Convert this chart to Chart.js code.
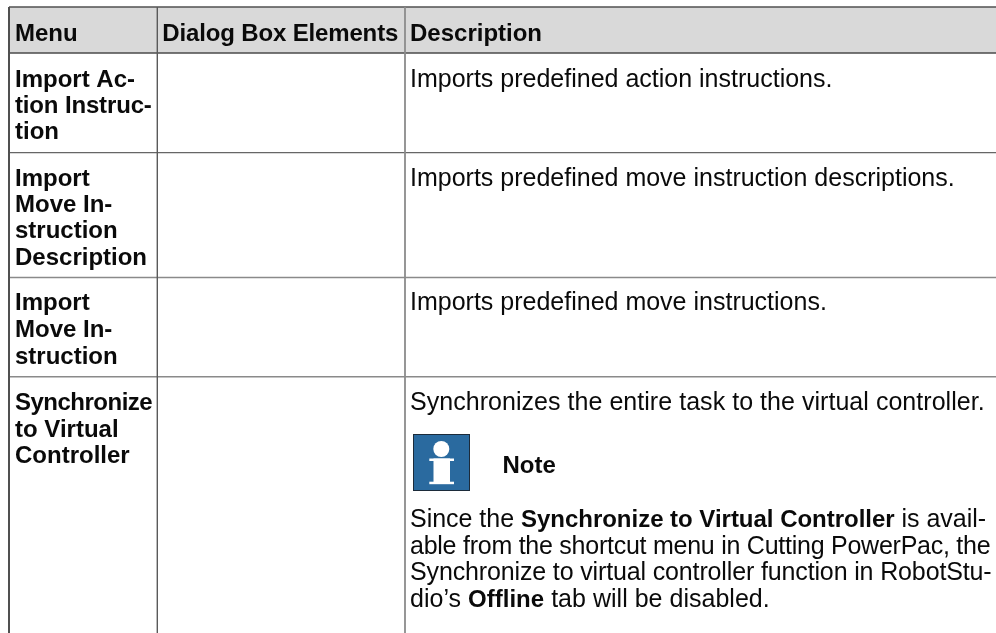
<!DOCTYPE html>
<html>
<head>
<meta charset="utf-8">
<style>
  html, body { margin: 0; padding: 0; background: #fff; }
  #wrap { width: 996px; height: 633px; }
</style>
<script src="https://cdn.jsdelivr.net/npm/chart.js@4"></script>
</head>
<body>
<div id="wrap"><canvas id="table"></canvas></div>
<script>
// table geometry in page units
const columnEdges = [9, 157.3, 405];
const rowEdges = [7, 53, 152.6, 277.4, 376.8];
const tableRight = 996;
const tableBottom = 633;

const columnColors = ['#505050', '#5a5a5a', '#8c8c8c'];
const columnWidths = [2, 1.4, 1.8];
const rowColors = ['#505050', '#4a4a4a', '#666666', '#8a8a8a', '#8a8a8a'];
const rowWidths = [1.5, 1.5, 1.4, 1.5, 1.5];

// text, letter spacing
const headers = [['Menu', 0], ['Dialog Box Elements', -0.15], ['Description', 0]];
const headerBaseline = 41;

// text, baseline, letter spacing
const menuLines = [
  ['Import Ac-', 87, 0], ['tion Instruc-', 113, -0.15], ['tion', 139, 0],
  ['Import', 186, 0], ['Move In-', 212, 0], ['struction', 238, 0], ['Description', 265, 0],
  ['Import', 310, 0], ['Move In-', 337, 0], ['struction', 364, 0],
  ['Synchronize', 410, -0.5], ['to Virtual', 437, 0], ['Controller', 463, 0]
];

// each line is [baseline, letter spacing, runs], a run is [text, bold]
const descriptionLines = [
  [87, 0, [['Imports predefined action instructions.', false]]],
  [186, 0, [['Imports predefined move instruction descriptions.', false]]],
  [310, 0, [['Imports predefined move instructions.', false]]],
  [410, 0.04, [['Synchronizes the entire task to the virtual controller.', false]]],
  [527, -0.02, [['Since the ', false], ['Synchronize to Virtual Controller', true], [' is avail-', false]]],
  [554, -0.25, [['able from the shortcut menu in Cutting PowerPac, the', false]]],
  [580, -0.14, [['Synchronize to virtual controller function in RobotStu-', false]]],
  [607, 0.02, [['dio\u2019s ', false], ['Offline', true], [' tab will be disabled.', false]]]
];

const noteLabel = ['Note', 502.5, 473];
const noteIcon = { x: 413, y: 434, size: 57 };

const bodySize = 25;
const boldSize = 24;
const fontFamily = '"Liberation Sans", Arial, sans-serif';
const textColor = '#0a0a0a';

function segment(x1, y1, x2, y2, color, width) {
  return {
    data: [{ x: x1, y: y1 }, { x: x2, y: y2 }],
    showLine: true, pointRadius: 0, borderColor: color, borderWidth: width
  };
}

const rules = [
  ...columnEdges.map((x, i) => segment(x, rowEdges[0], x, tableBottom, columnColors[i], columnWidths[i])),
  ...rowEdges.map((y, i) => segment(columnEdges[0], y, tableRight, y, rowColors[i], rowWidths[i]))
];

function drawRuns(ctx, x, y, runs, spacing) {
  ctx.letterSpacing = spacing + 'px';
  for (const [text, bold] of runs) {
    ctx.font = bold ? 'bold ' + boldSize + 'px ' + fontFamily : bodySize + 'px ' + fontFamily;
    ctx.fillText(text, x, y);
    x += ctx.measureText(text).width;
  }
  ctx.letterSpacing = '0px';
}

const tablePlugin = {
  id: 'tableCells',
  beforeDatasetsDraw(chart) {
    const { ctx, scales: { x, y } } = chart;
    ctx.fillStyle = '#d9d9d9';
    ctx.fillRect(x.getPixelForValue(columnEdges[0]), y.getPixelForValue(rowEdges[0]),
      x.getPixelForValue(tableRight) - x.getPixelForValue(columnEdges[0]),
      y.getPixelForValue(rowEdges[1]) - y.getPixelForValue(rowEdges[0]));
  },
  afterDatasetsDraw(chart) {
    const { ctx, scales: { x, y } } = chart;
    ctx.save();
    ctx.fillStyle = textColor;
    ctx.textBaseline = 'alphabetic';
    headers.forEach(([h, spacing], i) => {
      drawRuns(ctx, x.getPixelForValue(columnEdges[i] + (i === 0 ? 6 : 5)), y.getPixelForValue(headerBaseline), [[h, true]], spacing);
    });
    menuLines.forEach(([text, base, spacing]) => {
      drawRuns(ctx, x.getPixelForValue(15), y.getPixelForValue(base), [[text, true]], spacing);
    });
    descriptionLines.forEach(([base, spacing, runs]) => {
      drawRuns(ctx, x.getPixelForValue(410), y.getPixelForValue(base), runs, spacing);
    });
    drawRuns(ctx, x.getPixelForValue(noteLabel[1]), y.getPixelForValue(noteLabel[2]), [[noteLabel[0], true]], 0);

    // info icon
    const ix = x.getPixelForValue(noteIcon.x), iy = y.getPixelForValue(noteIcon.y), s = noteIcon.size;
    ctx.fillStyle = '#2a6a9f';
    ctx.strokeStyle = '#1c2b3a';
    ctx.lineWidth = 1;
    ctx.fillRect(ix, iy, s, s);
    ctx.strokeRect(ix + 0.5, iy + 0.5, s - 1, s - 1);
    ctx.fillStyle = '#ffffff';
    ctx.beginPath();
    ctx.arc(ix + 28.3, iy + 15, 8, 0, Math.PI * 2);
    ctx.fill();
    ctx.fillRect(ix + 16.3, iy + 24.5, 24.7, 2.5);
    ctx.fillRect(ix + 20.5, iy + 24.5, 16.5, 24);
    ctx.fillRect(ix + 16.3, iy + 47.7, 24.7, 2.5);
    ctx.restore();
  }
};

new Chart(document.getElementById('table'), {
  type: 'scatter',
  data: { datasets: rules },
  options: {
    responsive: true,
    maintainAspectRatio: false,
    animation: false,
    layout: { padding: 0 },
    plugins: { legend: { display: false }, tooltip: { enabled: false } },
    scales: {
      x: { type: 'linear', min: 0, max: 996, display: false },
      y: { type: 'linear', min: 0, max: 633, reverse: true, display: false }
    }
  },
  plugins: [tablePlugin]
});
</script>
</body>
</html>
